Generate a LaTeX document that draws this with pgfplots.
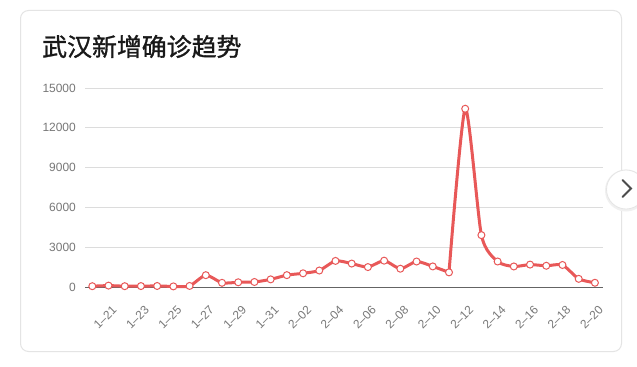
\documentclass[border=0pt]{standalone}
\usepackage{fontspec}
\setmainfont{Liberation Sans}
\newfontfamily\cjk[FakeBold=1.2]{Noto Sans CJK SC}
\usepackage{pgfplots}
\usepackage{pgfplotstable}
\pgfplotsset{compat=1.18}
\definecolor{linered}{RGB}{232,88,88}
\definecolor{ticktext}{RGB}{120,120,120}
\definecolor{gridc}{RGB}{220,220,220}
\definecolor{axisc}{RGB}{100,100,100}
\definecolor{cardc}{RGB}{228,228,228}
\pgfplotstableread{
x y
0 60
1 105
2 62
3 70
4 77
5 46
6 80
7 892
8 315
9 356
10 378
11 576
12 894
13 1033
14 1242
15 1967
16 1766
17 1501
18 1985
19 1379
20 1921
21 1552
22 1104
23 13436
24 3910
25 1923
26 1548
27 1690
28 1600
29 1660
30 615
31 319
}\wuhan
\begin{document}
\begin{tikzpicture}[x=1bp,y=1bp]
\path[use as bounding box, fill=white] (0,0) rectangle (637,366);
\draw[cardc, line width=1bp, fill=white, rounded corners=8bp] (20.5,14.5) rectangle (621.5,355.5);
\node[anchor=west, inner sep=0pt, font=\cjk\fontsize{25}{28}\selectfont, text=black!90] at (42,319.5) {武汉新增确诊趋势};
\begin{axis}[
  at={(85bp,79bp)}, anchor=south west,
  scale only axis, width=518bp, height=199bp,
  xmin=-0.45, xmax=31.5, ymin=0, ymax=15000,
  clip=false,
  scaled y ticks=false,
  axis x line*=bottom, axis y line*=left,
  y axis line style={draw=none},
  x axis line style={draw=axisc, line width=1bp, -},
  major tick length=0pt,
  ymajorgrids, grid style={gridc, line width=0.8bp},
  ytick={0,3000,6000,9000,12000,15000},
  yticklabels={0,3000,6000,9000,12000,15000},
  yticklabel style={font=\fontsize{12}{14}\selectfont, text=ticktext, inner sep=0pt, xshift=-9bp},
  xtick={1,3,5,7,9,11,13,15,17,19,21,23,25,27,29,31},
  xticklabels={1--21,1--23,1--25,1--27,1--29,1--31,2--02,2--04,2--06,2--08,2--10,2--12,2--14,2--16,2--18,2--20},
  xticklabel style={font=\fontsize{12}{14}\selectfont, text=ticktext, inner sep=0pt, xshift=3bp, yshift=-18bp, rotate=45, anchor=north east},
]
\addplot[linered, line width=3bp, smooth, tension=0.4, restrict x to domain=0:22, forget plot] table[x=x,y=y]{\wuhan};
\addplot[linered, line width=3bp, smooth, tension=0.4, restrict x to domain=22:31, forget plot] table[x=x,y=y]{\wuhan};
\addplot[only marks, mark=*, mark size=3.5bp, mark options={fill=white, draw=linered, line width=1bp}] table[x=x,y=y]{\wuhan};
\end{axis}
\begin{scope}
\clip (0,0) rectangle (637,366);
\fill[black!6] (626,175.5) circle (21);
\draw[black!10, fill=white, line width=0.8bp] (626,176.5) circle (19.5);
\draw[black!70, line width=1.8bp, line cap=round, line join=miter] (622.5,186) -- (631,177.5) -- (622.5,169);
\end{scope}
\end{tikzpicture}
\end{document}
